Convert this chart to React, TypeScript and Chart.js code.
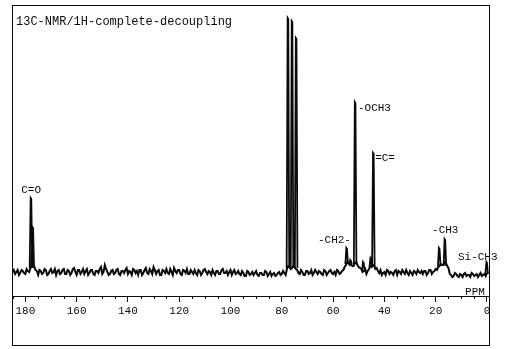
import React, { useEffect, useRef } from "react";
import { Chart, registerables } from "chart.js";

Chart.register(...registerables);

// ---- data ----
const titleText = "13C-NMR/1H-complete-decoupling";
const axisUnit = "PPM";

// baseline trace A: sampled every 1 ppm, from 185 ppm down to 0 ppm
const baselineStartPpm = 185;
const baselineNoise = [
  0, -2, 2, -1, 1, -2, 1, 4, 6, 2,
  -3, 1, -1, 2, -2, 3, 0, -3, 2, -1,
  3, -2, 1, -1, 4, -3, 2, 0, -2, 3,
  -1, 2, -3, 1, 3, -2, 7, 0, -2, 2,
  -1, 3, -3, 1, 2, -2, 0, 3, -1, -3,
  2, -1, 4, -2, 1, 5, -2, 2, -3, 1,
  3, -2, 0, 4, -1, 2, -3, 1, 3, -2,
  0, 2, -3, 1, -1, 3, -2, 0, 2, -3,
  1, -2, 3, -1, -3, 2, 0, -2, 1, -3,
  -1, -4, 0, -2, -3, 1, -4, -1, -3, 0,
  -2, -4, -1, -3, 0, -2, -1, 3, 5, 4,
  5, 2, -2, 0, -3, 1, -1, -3, 2, -2,
  0, -3, 1, -1, 2, -2, -3, 1, -1, 2,
  7, 9, 8, 6, 10, 5, 3, 1, -2, 3,
  5, 6, 4, -1, -3, 0, 2, -2, -1, 1,
  -3, 0, 2, -2, -1, 1, -3, 0, 2, -1,
  -2, 1, -1, 2, 0, 3, 5, 8, 7, 9,
  4, -3, -4, -2, -5, -3, -2, -4, -3, -1,
  -4, -2, -3, -4, -2, -1,
];
// baseline trace B: the half-ppm samples, from 184.5 ppm down to 0.5 ppm
const baselineStartPpmB = 184.5;
const baselineNoiseB = [
  2, 0, -3, 2, -1, 3, 0, 5, 5, 1,
  2, -2, 3, -3, 1, -1, 3, 1, -2, 2,
  -2, 2, -3, 3, 0, 2, -2, 3, 1, -3,
  2, -2, 1, -1, 5, 0, 3, -3, 1, -2,
  2, -2, 1, -1, 4, 1, -3, 2, 1, 2,
  -3, 2, -1, 3, -2, 2, 1, -3, 2, -1,
  -1, 3, -3, 1, 2, -2, 2, -1, -2, 2,
  -2, -1, 2, -3, 2, 0, 1, -3, -1, 1,
  -2, 2, -1, 1, 0, -3, 2, -1, -2, 1,
  -4, 1, -3, 0, -1, -3, -1, -3, 1, -4,
  0, -2, -4, -1, -3, 1, -3, 6, 3, 6,
  3, -1, 2, -3, 1, -2, 2, -1, 0, 1,
  -2, 2, -3, 1, -1, 0, 2, -2, 1, 5,
  10, 7, 6, 9, 7, 4, 0, 3, 1, 6,
  7, 3, 1, 2, -1, -3, 1, 0, -3, 2,
  1, -2, 0, 2, -3, -1, 1, -2, 0, 1,
  1, -3, 2, -2, 1, 2, 6, 7, 10, 6,
  -2, -5, -1, -4, -2, -5, -1, -3, -5, -2,
  -3, -5, -1, -3, -4,
];

// peaks (chemical shift in ppm, height above baseline, foot level)
const peakPpm = [177.8, 177.1, 77.6, 76.0, 74.4, 54.7, 53.2, 51.4, 48.2, 45.3, 44.3, 18.6, 16.4, 0.1];
const peakHeight = [74, 45, 254, 251, 234, 24, 12, 170, 10, 14, 119, 24, 33, 10];
const peakFoot = [4, 4, 4, 4, 4, 8, 8, 8, 2, 5, 5, 6, 6, -2];

// x axis tick labels
const xTickLabels = [180, 160, 140, 120, 100, 80, 60, 40, 20, 0];

// peak annotations
const labelText = ["C=O", "-OCH3", "=C=", "-CH2-", "-CH3", "Si-CH3"];
const labelPpm = [181.6, 50.3, 43.6, 65.9, 21.4, 11.3];
const labelLevel = [82, 164, 114, 32, 42, 15];

const INK = "#0a0a0a";

export default function App() {
  const ref = useRef<HTMLCanvasElement | null>(null);

  useEffect(() => {
    document.body.style.margin = "0";
    const canvas = ref.current;
    if (!canvas) return;

    const baseline = [
      ...baselineNoise.map((v, i) => ({ x: baselineStartPpm - i, y: v })),
      ...baselineNoiseB.map((v, i) => ({ x: baselineStartPpmB - i, y: v })),
    ].sort((a, b) => b.x - a.x);

    const spikes: { x: number; y: number | null }[] = [];
    peakPpm.forEach((p, i) => {
      const h = peakHeight[i];
      const f = peakFoot[i];
      spikes.push({ x: p + 0.5, y: f });
      spikes.push({ x: p + 0.12, y: h });
      spikes.push({ x: p - 0.12, y: h - 1 });
      spikes.push({ x: p - 0.5, y: f });
      spikes.push({ x: p - 0.55, y: null });
    });

    const decor = {
      id: "decor",
      afterDraw(chart: any) {
        const { ctx } = chart;
        const xs = chart.scales.x;
        const ys = chart.scales.y;
        ctx.save();
        ctx.strokeStyle = INK;
        ctx.lineWidth = 1;
        ctx.strokeRect(12.5, 5.5, 477, 340);
        // minor ticks
        const axisY = chart.chartArea.bottom;
        xs.ticks.forEach((t: any) => {
          if (t.value % 20 !== 0) {
            const px = Math.round(xs.getPixelForValue(t.value)) + 0.5;
            ctx.beginPath();
            ctx.moveTo(px, axisY);
            ctx.lineTo(px, axisY + 3);
            ctx.stroke();
          }
        });
        ctx.fillStyle = INK;
        ctx.textBaseline = "middle";
        ctx.textAlign = "left";
        ctx.font = '12px "Liberation Mono"';
        ctx.fillText(titleText, 16, 22);
        ctx.font = '11px "Liberation Mono"';
        labelText.forEach((t, i) => {
          ctx.fillText(t, xs.getPixelForValue(labelPpm[i]), ys.getPixelForValue(labelLevel[i]));
        });
        ctx.textAlign = "right";
        ctx.fillText(axisUnit, xs.getPixelForValue(0.8), ys.getPixelForValue(-20));
        ctx.restore();
      },
    };

    const chart = new Chart(canvas, {
      type: "line",
      data: {
        datasets: [
          {
            data: baseline,
            borderColor: INK,
            borderWidth: 2,
            pointRadius: 0,
            tension: 0,
          },
          {
            data: spikes,
            borderColor: INK,
            borderWidth: 1.8,
            pointRadius: 0,
            tension: 0,
            spanGaps: false,
          },
        ],
      },
      options: {
        responsive: false,
        animation: false,
        events: [],
        layout: { padding: { left: 12, right: 20, top: 5, bottom: 0 } },
        plugins: { legend: { display: false }, tooltip: { enabled: false } },
        scales: {
          x: {
            type: "linear",
            reverse: true,
            min: -0.8,
            max: 185.2,
            afterFit: (s: any) => {
              s.height = 53;
            },
            border: { display: true, color: INK, width: 1 },
            grid: {
              drawOnChartArea: false,
              drawTicks: true,
              tickLength: 6,
              tickColor: (c: any) =>
                c.tick && xTickLabels.includes(c.tick.value) ? INK : "rgba(0,0,0,0)",
            },
            ticks: {
              stepSize: 5,
              includeBounds: false,
              autoSkip: false,
              maxRotation: 0,
              padding: 2,
              color: INK,
              font: { family: '"Liberation Mono"', size: 11 },
              callback: (v: any) => (xTickLabels.includes(Number(v)) ? String(v) : ""),
            },
          },
          y: {
            display: false,
            min: -24,
            max: 267,
          },
        },
      },
      plugins: [decor],
    });
    return () => chart.destroy();
  }, []);

  return <canvas ref={ref} width={509} height={349} style={{ display: "block" }} />;
}
